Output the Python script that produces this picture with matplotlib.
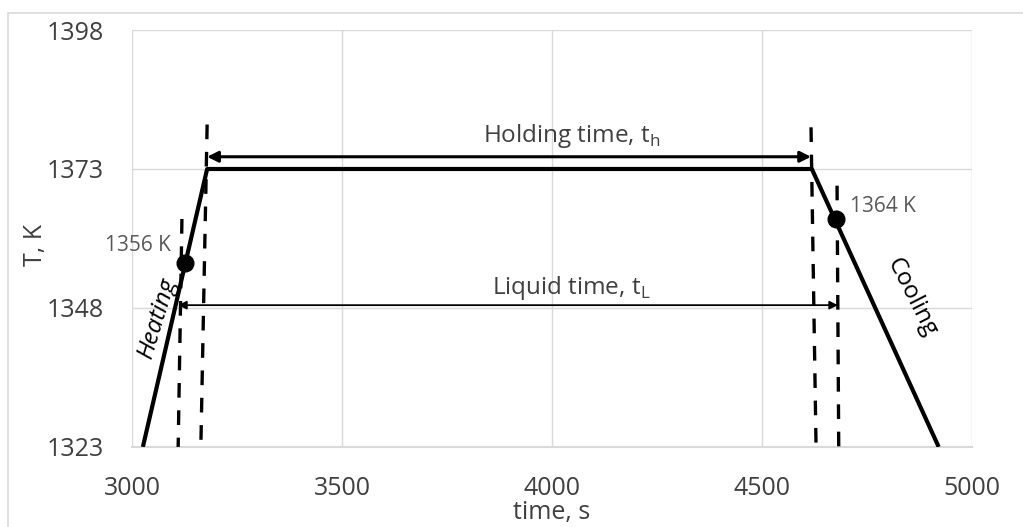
import matplotlib.pyplot as plt
from matplotlib.patches import Rectangle

# temperature profile (time in s, temperature in K)
profile_time = [3026, 3179, 4619, 4921]
profile_temp = [1323, 1373, 1373, 1323]

# liquidus points
liquid_time = [3126, 4676]
liquid_temp = [1356, 1364]
liquid_labels = ["1356 K", "1364 K"]

# dashed markers: (t_top, T_top, t_bottom, T_bottom)
dash_lines = [
    (3119, 1364, 3110, 1323),
    (3179, 1381, 3164, 1323),
    (4617, 1380.5, 4629, 1323),
    (4679, 1370, 4683, 1323),
]

hold_span = (3179, 4617, 1375.2)
liquid_span = (3110, 4681, 1348.5)

x_ticks = [3000, 3500, 4000, 4500, 5000]
y_ticks = [1323, 1348, 1373, 1398]

text_col = "#404040"
grid_col = "#d9d9d9"

plt.rcParams["font.family"] = ["Open Sans", "DejaVu Sans"]

fig = plt.figure(figsize=(10.23, 5.27), dpi=100)
ax = fig.add_axes([0.129, 0.152, 0.821, 0.791])

# chart border (excel style)
fig.patches.append(
    Rectangle((8 / 1023, -0.1), 1.2, 1 - 13 / 527 + 0.1,
              transform=fig.transFigure, fill=False, edgecolor=grid_col, lw=1.2)
)

ax.plot(profile_time, profile_temp, color="black", lw=3.0, solid_capstyle="butt", zorder=4)
ax.plot(liquid_time, liquid_temp, "o", color="black", ms=12, zorder=5)

for t0, T0, t1, T1 in dash_lines:
    ax.plot([t0, t1], [T0, T1], color="black", lw=2.4, ls=(0, (4.4, 3.8)), zorder=3)

# arrows
ax.annotate("", xy=(hold_span[0], hold_span[2]), xytext=(hold_span[1], hold_span[2]),
            arrowprops=dict(arrowstyle="<|-|>", color="black", lw=2.2,
                            mutation_scale=16, shrinkA=0, shrinkB=0), zorder=4)
ax.annotate("", xy=(liquid_span[0], liquid_span[2]), xytext=(liquid_span[1], liquid_span[2]),
            arrowprops=dict(arrowstyle="<|-|>", color="black", lw=1.3,
                            mutation_scale=12, shrinkA=0, shrinkB=0), zorder=4)

ax.text(4048, 1378.9, "Holding time, t$_\\mathregular{h}$", fontsize=17.5, color=text_col,
        ha="center", va="center")
ax.text(4045, 1351.6, "Liquid time, t$_\\mathregular{L}$", fontsize=17.5, color=text_col,
        ha="center", va="center")

ax.text(3093, 1359.3, liquid_labels[0], fontsize=15, color="#595959",
        ha="right", va="center")
ax.text(4710, 1366.3, liquid_labels[1], fontsize=15, color="#595959",
        ha="left", va="center")

ax.text(3060, 1346.2, "Heating", fontsize=17.5, style="italic", color="black",
        rotation=73, ha="center", va="center")
ax.text(4857, 1349.8, "Cooling", fontsize=17.5, color="black",
        rotation=-63, ha="center", va="center")

ax.set_xlim(3000, 5000)
ax.set_ylim(1323, 1398)
ax.set_xticks(x_ticks)
ax.set_yticks(y_ticks)
ax.grid(True, color=grid_col, lw=1.0)
ax.set_axisbelow(True)
for side in ["top", "right", "left"]:
    ax.spines[side].set_visible(False)
ax.spines["bottom"].set_color(grid_col)
ax.spines["bottom"].set_linewidth(1.5)
ax.tick_params(length=0, labelsize=18, labelcolor=text_col)
ax.tick_params(axis="x", pad=21)
ax.tick_params(axis="y", pad=20)

ax.set_xlabel("time, s", fontsize=18, color=text_col)
ax.xaxis.set_label_coords(0.5, -0.128)
ax.set_ylabel("T, K", fontsize=18, color=text_col)
ax.yaxis.set_label_coords(-0.100, 0.485)

fig.savefig("out.png", dpi=100)
